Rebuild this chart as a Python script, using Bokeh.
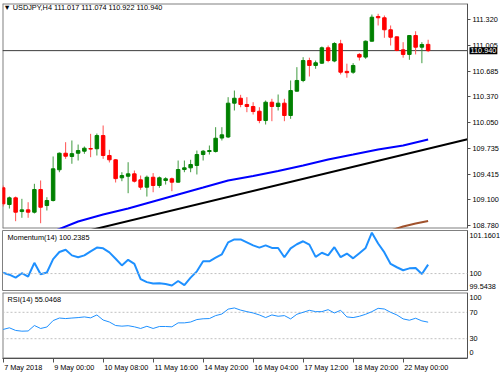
from bokeh.plotting import figure
from bokeh.layouts import column
from bokeh.models import (ColumnDataSource, Range1d, FixedTicker, Span, Label,
                          PrintfTickFormatter, LinearAxis, AllLabels)
from bokeh.embed import file_html
from bokeh.resources import INLINE

# ---------------- data ----------------
title_text = "\u25bc USDJPY,H4  111.017 111.074 110.922 110.940"
mom_title = "Momentum(14) 100.2385"
rsi_title = "RSI(14) 55.0468"
last_price = 110.940

opens = [109.249, 109.043, 109.125, 108.956, 108.977, 108.948, 109.228, 109.030, 109.092, 109.471,
         109.675, 109.635, 109.675, 109.700, 109.733, 109.730, 109.893, 109.647, 109.594, 109.372,
         109.391, 109.421, 109.347, 109.256, 109.379, 109.277, 109.339, 109.360, 109.318, 109.474,
         109.495, 109.524, 109.659, 109.696, 109.696, 109.862, 109.875, 110.292, 110.353, 110.276,
         110.251, 110.193, 110.078, 110.304, 110.251, 110.292, 110.140, 110.440, 110.572, 110.818,
         110.757, 110.785, 110.975, 110.812, 111.024, 110.684, 110.674, 110.893, 110.860, 111.056,
         111.361, 111.345, 111.197, 111.110, 110.950, 110.893, 111.126, 110.982, 111.017]
highs = [109.277, 109.141, 109.141, 109.113, 109.071, 109.298, 109.339, 109.133, 109.635, 109.684,
         109.811, 109.832, 109.782, 109.758, 109.914, 109.918, 110.017, 109.717, 109.604, 109.441,
         109.564, 109.462, 109.400, 109.400, 109.430, 109.388, 109.379, 109.375, 109.585, 109.585,
         109.594, 109.708, 109.715, 109.770, 109.996, 109.996, 110.366, 110.448, 110.395, 110.366,
         110.304, 110.242, 110.325, 110.346, 110.399, 110.346, 110.572, 110.736, 110.859, 110.853,
         110.818, 110.991, 111.003, 111.044, 111.073, 110.779, 110.786, 110.909, 111.065, 111.385,
         111.394, 111.373, 111.250, 111.114, 111.044, 111.126, 111.179, 111.044, 111.074]
lows = [109.018, 108.993, 108.837, 108.879, 108.879, 108.932, 108.812, 108.969, 109.080, 109.441,
        109.606, 109.545, 109.585, 109.668, 109.626, 109.647, 109.606, 109.561, 109.314, 109.330,
        109.182, 109.314, 109.224, 109.141, 109.194, 109.249, 109.289, 109.207, 109.314, 109.441,
        109.441, 109.413, 109.585, 109.659, 109.684, 109.832, 109.862, 110.202, 110.242, 110.181,
        110.152, 110.045, 110.029, 110.070, 110.202, 110.070, 110.099, 110.436, 110.551, 110.621,
        110.716, 110.775, 110.797, 110.797, 110.646, 110.606, 110.654, 110.818, 110.839, 111.052,
        111.250, 111.098, 111.003, 110.933, 110.853, 110.827, 110.893, 110.785, 110.922]
closes = [109.051, 109.125, 108.948, 108.977, 108.948, 109.228, 109.009, 109.092, 109.483, 109.675,
          109.638, 109.670, 109.708, 109.737, 109.726, 109.893, 109.647, 109.594, 109.362, 109.400,
          109.421, 109.330, 109.256, 109.379, 109.277, 109.372, 109.360, 109.318, 109.474, 109.495,
          109.536, 109.659, 109.700, 109.708, 109.860, 109.902, 110.292, 110.353, 110.276, 110.251,
          110.189, 110.078, 110.304, 110.251, 110.292, 110.140, 110.448, 110.572, 110.818, 110.757,
          110.790, 110.975, 110.818, 111.028, 110.674, 110.668, 110.757, 110.860, 111.056, 111.352,
          111.345, 111.197, 111.105, 110.942, 110.893, 111.126, 110.982, 111.015, 110.940]

momentum = [100.02, 99.97, 99.89, 100.01, 99.92, 100.29, 99.98, 100.03, 100.39, 100.58,
            100.64, 100.49, 100.44, 100.49, 100.60, 100.70, 100.68, 100.57, 100.40, 100.22,
            100.37, 100.26, 99.85, 99.77, 99.73, 99.74, 99.72, 99.68, 99.80, 99.69,
            99.89, 100.06, 100.33, 100.33, 100.43, 100.52, 100.84, 100.92, 100.92, 100.84,
            100.76, 100.70, 100.76, 100.69, 100.69, 100.44, 100.68, 100.79, 100.87, 100.78,
            100.45, 100.56, 100.49, 100.71, 100.44, 100.54, 100.41, 100.55, 100.69, 101.10,
            100.81, 100.57, 100.26, 100.17, 100.09, 100.14, 100.15, 99.99, 100.24]
rsi = [44.0, 46.5, 42.5, 41.4, 41.7, 50.0, 45.5, 47.7, 57.5, 61.3,
       60.5, 61.3, 62.0, 63.0, 61.6, 66.0, 58.3, 55.3, 50.0, 49.0,
       49.7, 48.0, 45.5, 48.8, 45.5, 48.5, 48.5, 48.0, 54.0, 54.0,
       55.3, 59.0, 60.2, 60.5, 65.0, 67.4, 74.8, 76.6, 73.3, 71.0,
       69.0, 66.0, 62.0, 66.0, 64.0, 65.0, 60.0, 67.0, 70.0, 73.0,
       71.0, 71.0, 74.0, 69.0, 73.0, 63.0, 62.0, 64.0, 67.0, 71.0,
       76.0, 75.0, 70.0, 66.0, 60.0, 58.0, 61.0, 57.0, 55.05]

ma_blue_x = [8, 12, 16, 20, 24, 28, 32, 36, 40, 44, 48, 52, 56, 60, 64, 68]
ma_blue_y = [108.710, 108.833, 108.919, 108.993, 109.080, 109.166, 109.252, 109.339,
             109.394, 109.456, 109.524, 109.598, 109.659, 109.721, 109.770, 109.844]
trend_x = [0, 74.3]
trend_y = [108.467, 109.848]
ma_brown_x = [62, 64, 66, 68]
ma_brown_y = [108.722, 108.771, 108.808, 108.839]

price_ticks = [108.780, 109.100, 109.415, 109.735, 110.050, 110.370, 110.685, 111.005, 111.320]
time_tick_bars = [0, 8, 16, 24, 32, 40, 48, 56, 64]
time_tick_labels = ["7 May 2018", "9 May 00:00", "10 May 08:00", "11 May 16:00", "14 May 20:00",
                    "16 May 04:00", "17 May 12:00", "18 May 20:00", "22 May 00:00"]
mom_range = (99.5438, 101.1601)
mom_ticks = {101.025: "101.1601", 100.0: "100", 99.652: "99.5438"}
rsi_range = (0.0, 100.0)
rsi_levels = [70.0, 30.0]
rsi_ticks = {92.6: "100", 70.0: "70", 30.0: "30", 8.6: "0"}

# ---------------- style / geometry ----------------
FONT = "Liberation Sans"
FS_PX = 7.3
FS = "%.1fpx" % FS_PX
BULL = "#008000"
BEAR = "#ff0000"
FRAME = "#808080"
AXIS = "#505050"
LEVEL = "#c0c0c0"
BAR_PX = 6.25          # pixels per bar
X0 = -0.1              # bar value at the left frame edge
X1 = 74.3              # bar value at the price-axis line (465 px from the left edge)

xs = list(range(len(closes)))
is_up = [c >= o for o, c in zip(opens, closes)]
src = ColumnDataSource(dict(
    x=xs, high=highs, low=lows,
    top=[max(o, c) for o, c in zip(opens, closes)],
    bottom=[min(o, c) for o, c in zip(opens, closes)],
    color=[BULL if u else BEAR for u in is_up],
    wick=["#3f9a3f" if u else "#ff5050" for u in is_up],
))

xr_sub = Range1d(X0, X1)
xr_main = Range1d(X0, X0 + 498 / BAR_PX)


def style_axis(ax, tick_out=3):
    ax.axis_line_color = AXIS
    ax.major_tick_line_color = AXIS
    ax.major_tick_out = tick_out
    ax.major_tick_in = 0
    ax.minor_tick_line_color = None
    ax.major_label_standoff = 2
    ax.major_label_text_font = FONT
    ax.major_label_text_font_size = FS
    ax.major_label_text_color = "black"
    ax.major_label_policy = AllLabels()


def make_fig(fw, fh, xr, yr, top, bottom, right, xaxis=False):
    p = figure(frame_width=fw, frame_height=fh, x_range=xr, y_range=yr,
               output_backend="svg", toolbar_location=None,
               y_axis_location="right", x_axis_location="below" if xaxis else None,
               min_border_left=2, min_border_right=right,
               min_border_top=top, min_border_bottom=bottom)
    p.grid.visible = False
    p.outline_line_color = FRAME
    p.outline_line_width = 1
    p.background_fill_color = "white"
    p.border_fill_color = "white"
    style_axis(p.yaxis[0])
    return p


def open_frame(p, yr):
    """Frame runs to the page edge; value axis drawn at X1; border on left/top/bottom only."""
    p.outline_line_color = None
    p.yaxis[0].fixed_location = X1
    p.segment(x0=[X0, X0, X0], y0=[yr.start, yr.end, yr.start],
              x1=[X0, X1, X1], y1=[yr.end, yr.end, yr.start],
              line_color=FRAME, line_width=2)


# ---------------- main price panel ----------------
main_yr = Range1d(108.747, 111.521)
main = make_fig(498, 225, xr_main, main_yr, 3, 1, 0)
open_frame(main, main_yr)
pax = main.yaxis[0]
pax.ticker = FixedTicker(ticks=price_ticks)
pax.formatter = PrintfTickFormatter(format="%.3f")

main.line(trend_x, trend_y, line_color="black", line_width=2)
main.line(ma_blue_x, ma_blue_y, line_color="#0000ff", line_width=2)
main.line(ma_brown_x, ma_brown_y, line_color="#a0522d", line_width=2)
main.segment(x0=[X0], y0=[last_price], x1=[X1], y1=[last_price], line_color="#3c3c3c", line_width=1)
main.segment("x", "high", "x", "low", source=src, line_color="wick", line_width=1)
main.vbar(x="x", width=0.56, top="top", bottom="bottom", source=src,
          fill_color="color", line_color="color", line_width=1)

main.add_layout(Label(x=X0, y=main_yr.end, x_offset=1, y_offset=0.5, text=title_text,
                      text_baseline="top", text_font=FONT, text_font_size=FS, text_color="black"))
main.add_layout(Label(x=X1, y=last_price, x_offset=2, text="%.3f" % last_price,
                      text_baseline="middle", text_align="left", text_font=FONT,
                      text_font_size=FS, text_color="white", background_fill_color="black",
                      padding=1))

# ---------------- momentum panel ----------------
mom = make_fig(465, 60, xr_sub, Range1d(*mom_range), 1, 1, 33)
mom.yaxis[0].ticker = FixedTicker(ticks=sorted(mom_ticks.keys()))
mom.yaxis[0].major_label_overrides = mom_ticks
mom.yaxis[0].major_tick_out = 0
mom.add_layout(Span(location=100.0, dimension="width", line_color=LEVEL,
                    line_width=1, line_dash="2 2"))
mom.line(xs, momentum, line_color="#1e90ff", line_width=2)
mom.add_layout(Label(x=X0, y=mom_range[1], x_offset=5, y_offset=-2, text=mom_title,
                     text_baseline="top", text_font=FONT, text_font_size=FS, text_color="black"))

# ---------------- RSI panel ----------------
rsi_yr = Range1d(*rsi_range)
rsi_fig = make_fig(498, 66, xr_main, rsi_yr, 1, 17, 0, xaxis=True)
open_frame(rsi_fig, rsi_yr)
rax = rsi_fig.yaxis[0]
rax.ticker = FixedTicker(ticks=sorted(rsi_ticks.keys()))
rax.major_label_overrides = rsi_ticks
rax.major_tick_out = 0
rsi_fig.segment(x0=[X0] * len(rsi_levels), y0=rsi_levels, x1=[X1] * len(rsi_levels), y1=rsi_levels,
                line_color=LEVEL, line_width=1, line_dash="2 2")
rsi_fig.line(xs, rsi, line_color="#1e90ff", line_width=1)
rsi_fig.add_layout(Label(x=X0, y=rsi_range[1], x_offset=5, y_offset=-2, text=rsi_title,
                         text_baseline="top", text_font=FONT, text_font_size=FS, text_color="black"))

# time axis: tick marks at the bars (labels not drawn) ...
tick_ax = rsi_fig.xaxis[0]
style_axis(tick_ax, tick_out=4)
tick_ax.bounds = (X0, X1)
tick_ax.ticker = FixedTicker(ticks=time_tick_bars)
tick_ax.major_label_text_color = None
tick_ax.major_label_text_font_size = "1px"
tick_ax.major_label_standoff = 0

# ... and the labels, left-aligned just right of each tick
CHAR_W = {" ": 0.278, ":": 0.278, "M": 0.833, "a": 0.556, "y": 0.5}


def text_w(s):
    return sum(CHAR_W.get(ch, 0.556) for ch in s) * FS_PX


label_pos = [b + (1.0 + text_w(t) / 2) / BAR_PX for b, t in zip(time_tick_bars, time_tick_labels)]
lab_ax = LinearAxis(ticker=FixedTicker(ticks=label_pos),
                    major_label_overrides={p: t for p, t in zip(label_pos, time_tick_labels)})
style_axis(lab_ax, tick_out=0)
lab_ax.axis_line_color = None
lab_ax.major_tick_line_color = None
lab_ax.major_label_standoff = 0
rsi_fig.add_layout(lab_ax, "below")

layout = column(main, mom, rsi_fig, spacing=0)

html = file_html(layout, INLINE)
html = html.replace("<head>", "<head><style>html,body{margin:0;padding:0;overflow:hidden}</style>", 1)
open("out.html", "w").write(html)
